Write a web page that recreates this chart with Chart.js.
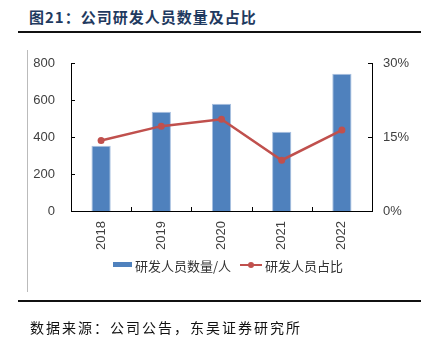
<!DOCTYPE html>
<html>
<head>
<meta charset="utf-8">
<script src="https://cdn.jsdelivr.net/npm/chart.js@4"></script>
<style>
  body{margin:0;background:#fff;font-family:"Noto Sans CJK SC",sans-serif;}
  #wrap{position:relative;width:429px;height:338px;overflow:hidden;}
  #title{position:absolute;left:29px;top:6px;font-size:15px;font-weight:bold;color:#1F3A60;letter-spacing:1px;white-space:nowrap;}
  .hline{position:absolute;left:18px;width:403px;height:2px;background:#111;}
  #vline{position:absolute;left:27px;top:50px;width:1px;height:242px;background:#bbb;}
  #source{position:absolute;left:30px;top:317px;font-size:14px;color:#111;letter-spacing:2px;white-space:nowrap;}
  .leg{position:absolute;font-size:13px;color:#333;white-space:nowrap;top:256px;}
  canvas{position:absolute;left:0;top:0;}
</style>
</head>
<body>
<div id="wrap">
  <div id="title">图21：公司研发人员数量及占比</div>
  <div class="hline" style="top:31px"></div>
  <div id="vline"></div>
  <canvas id="chart" width="429" height="338"></canvas>
  <div style="position:absolute;left:113px;top:262px;width:19px;height:5px;background:#4F81BD"></div>
  <div class="leg" style="left:135px">研发人员数量/人</div>
  <div style="position:absolute;left:240px;top:264px;width:22px;height:2px;background:#C0504D"></div>
  <div style="position:absolute;left:248px;top:262px;width:6px;height:6px;border-radius:3px;background:#C0504D"></div>
  <div class="leg" style="left:265px">研发人员占比</div>
  <div class="hline" style="top:300px"></div>
  <div id="source">数据来源：公司公告，东吴证券研究所</div>
</div>
<script>
const years=['2018','2019','2020','2021','2022'];
const staff=[353,537,580,429,742];
const ratio=[14.3,17.2,18.6,10.3,16.4];
const leftTicks=[0,200,400,600,800];
const rightTicks=[0,15,30];

// inward tick marks like the original
const innerTicks={
  id:'innerTicks',
  afterDraw(chart){
    const c=chart.ctx, x=chart.scales.x, yl=chart.scales.y, yr=chart.scales.y1;
    c.save();
    c.strokeStyle='#000';
    c.lineWidth=1;
    c.beginPath();
    leftTicks.forEach(v=>{const p=Math.round(yl.getPixelForValue(v))+0.5;c.moveTo(yl.right,p);c.lineTo(yl.right+4,p);});
    rightTicks.forEach(v=>{const p=Math.round(yr.getPixelForValue(v))+0.5;c.moveTo(yr.left,p);c.lineTo(yr.left-4,p);});
    for(let i=1;i<years.length;i++){
      const p=Math.round((x.getPixelForValue(i-1)+x.getPixelForValue(i))/2)+0.5;
      c.moveTo(p,x.top);c.lineTo(p,x.top-4);
    }
    c.stroke();
    c.restore();
  }
};

new Chart(document.getElementById('chart'),{
  data:{
    labels:years,
    datasets:[
      {type:'line',label:'研发人员占比',data:ratio,yAxisID:'y1',borderColor:'#C0504D',backgroundColor:'#C0504D',
       borderWidth:2.5,pointRadius:3.5,pointBorderWidth:0,tension:0,order:0},
      {type:'bar',label:'研发人员数量/人',data:staff,yAxisID:'y',backgroundColor:'#4F81BD',
       borderColor:'#A9C1E0',borderWidth:1,barPercentage:0.32,categoryPercentage:1,order:1}
    ]
  },
  plugins:[innerTicks],
  options:{
    responsive:false,
    animation:false,
    layout:{padding:{top:63,left:0,right:0,bottom:87}},
    plugins:{legend:{display:false},tooltip:{enabled:false}},
    scales:{
      x:{
        offset:true,
        grid:{display:false,drawTicks:false},
        border:{display:true,color:'#000',width:1},
        ticks:{color:'#404040',font:{size:13,family:'"Liberation Sans",Arial'},minRotation:90,maxRotation:90,padding:10},
        afterFit(s){s.height=40;}
      },
      y:{
        position:'left',min:0,max:800,
        afterBuildTicks(s){s.ticks=leftTicks.map(v=>({value:v}));},
        grid:{display:false,drawTicks:false},
        border:{display:true,color:'#000',width:1},
        ticks:{color:'#404040',font:{size:13,family:'"Liberation Sans",Arial'},padding:16},
        afterFit(s){s.width=71;}
      },
      y1:{
        position:'right',min:0,max:30,
        afterBuildTicks(s){s.ticks=rightTicks.map(v=>({value:v}));},
        grid:{display:false,drawTicks:false},
        border:{display:true,color:'#000',width:1},
        ticks:{color:'#404040',font:{size:13,family:'"Liberation Sans",Arial'},padding:11,callback:v=>v+'%'},
        afterFit(s){s.width=57;}
      }
    }
  }
});
</script>
</body>
</html>
